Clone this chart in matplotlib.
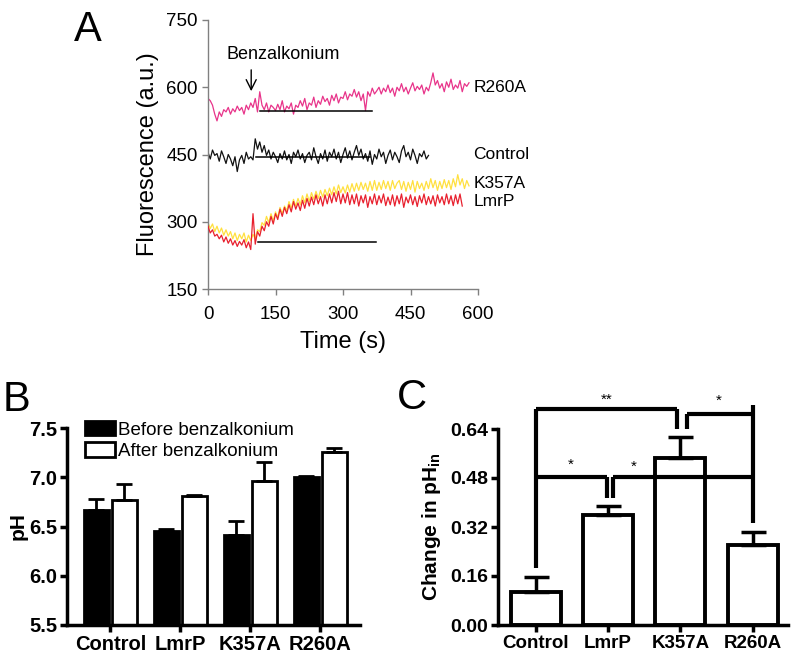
import numpy as np
import matplotlib
matplotlib.use("Agg")
import matplotlib.pyplot as plt
from matplotlib.patches import Patch

plt.rcParams['font.family'] = ['Liberation Sans', 'DejaVu Sans']
plt.rcParams['mathtext.fontset'] = 'custom'
plt.rcParams['mathtext.rm'] = 'Liberation Sans'
plt.rcParams['mathtext.bf'] = 'Liberation Sans:bold'

# ---------------- Panel A data (fluorescence traces, 5 s sampling) ----------------
step_s = 5
r260a_trace = [575, 570, 560, 540, 525, 545, 535, 550, 545, 555, 540, 552, 545, 558, 548,
               555, 540, 560, 550, 565, 555, 575, 545, 590, 560, 550, 565, 545, 560, 555,
               548, 562, 550, 570, 545, 558, 552, 565, 540, 560, 555, 570, 558, 575, 550,
               565, 560, 578, 555, 570, 562, 580, 568, 575, 560, 582, 570, 585, 565, 578,
               575, 590, 572, 585, 580, 595, 578, 590, 570, 585, 548, 590, 580, 598, 585,
               592, 600, 585, 598, 590, 605, 588, 598, 580, 600, 592, 608, 590, 600, 585,
               598, 610, 592, 602, 595, 605, 585, 600, 592, 610, 632, 605, 615, 598, 608,
               590, 612, 600, 618, 595, 605, 598, 615, 590, 608, 602, 610]
control_trace = [455, 440, 460, 448, 452, 435, 458, 445, 430, 450, 440, 425, 445, 412, 438,
                 448, 430, 455, 440, 445, 438, 485, 462, 478, 455, 470, 448, 460, 440, 455,
                 445, 432, 452, 440, 458, 438, 450, 430, 455, 445, 460, 440, 452, 432, 448,
                 455, 438, 465, 445, 430, 452, 440, 460, 435, 455, 445, 462, 440, 455, 432,
                 450, 465, 442, 458, 438, 455, 470, 448, 462, 440, 452, 435, 458, 428, 450,
                 440, 462, 445, 455, 430, 448, 460, 438, 455, 445, 432, 458, 470, 445, 455,
                 438, 462, 448, 430, 452, 445, 458, 440, 448]
k357a_trace = [298, 285, 295, 278, 290, 275, 286, 270, 282, 268, 278, 262, 275, 258, 272,
               262, 275, 255, 270, 258, 272, 262, 282, 278, 298, 292, 312, 298, 318, 302,
               322, 310, 332, 318, 335, 325, 345, 330, 350, 335, 352, 338, 358, 342, 362,
               345, 365, 350, 368, 352, 370, 355, 372, 358, 375, 360, 378, 362, 382, 365,
               378, 364, 382, 366, 385, 368, 386, 370, 388, 372, 386, 368, 390, 370, 392,
               370, 388, 372, 392, 374, 390, 370, 392, 374, 386, 392, 372, 390, 368, 388,
               372, 392, 366, 390, 374, 386, 370, 390, 374, 396, 376, 392, 370, 390, 374,
               394, 376, 392, 372, 396, 378, 405, 382, 396, 374, 392, 380]
lmrp_trace = [290, 275, 282, 268, 272, 262, 270, 255, 266, 252, 262, 248, 258, 245, 256,
              248, 260, 242, 255, 238, 318, 250, 278, 268, 290, 280, 300, 290, 312, 295,
              318, 305, 328, 312, 332, 318, 338, 322, 345, 328, 342, 325, 348, 330, 352,
              335, 355, 338, 360, 340, 356, 335, 360, 340, 362, 342, 365, 345, 368, 340,
              362, 342, 365, 338, 360, 340, 362, 335, 358, 342, 360, 332, 356, 340, 362,
              338, 358, 342, 362, 336, 355, 338, 360, 335, 358, 340, 362, 332, 355, 342,
              360, 338, 356, 334, 358, 342, 362, 338, 356, 340, 358, 335, 360, 342, 356,
              338, 362, 340, 358, 336, 360, 340, 362, 335]
trace_names = ['R260A', 'Control', 'K357A', 'LmrP']
trace_colors = ['#e8348a', '#111111', '#ffe040', '#e8202e']
label_pos = [(590, 600), (590, 451), (590, 386), (590, 345)]
# baseline reference lines: (level, start, end)
baselines = [(547, 115, 365), (445, 107, 359), (254, 111, 374)]
arrow_t = 96

# ---------------- Panel B data ----------------
cats = ['Control', 'LmrP', 'K357A', 'R260A']
ph_before = [6.67, 6.45, 6.41, 7.00]
ph_before_err = [0.11, 0.02, 0.15, 0.01]
ph_after = [6.77, 6.81, 6.96, 7.26]
ph_after_err = [0.16, 0.01, 0.19, 0.04]

# ---------------- Panel C data ----------------
dph = [0.107, 0.358, 0.545, 0.262]
dph_err = [0.051, 0.031, 0.069, 0.041]

fig = plt.figure(figsize=(7.97, 6.54), dpi=100)
W, H = 797, 654

def ax_px(l, t, r, b):
    return fig.add_axes([l / W, 1 - b / H, (r - l) / W, (b - t) / H])

# ================= Panel A =================
axA = ax_px(208, 20, 478, 289)
traces = [r260a_trace, control_trace, k357a_trace, lmrp_trace]
for i in range(4):
    y = np.array(traces[i])
    t = np.arange(len(y)) * step_s
    axA.plot(t, y, color=trace_colors[i], lw=0.9, zorder=2 + (1 if i == 3 else 0))
for lvl, s, e in baselines:
    axA.plot([s, e], [lvl, lvl], color='black', lw=1.1, zorder=5)
for name, (tx, ty) in zip(trace_names, label_pos):
    axA.text(tx, ty, name, fontsize=12.5, ha='left', va='center')
axA.annotate('', xy=(arrow_t, 585), xytext=(arrow_t, 645),
             arrowprops=dict(arrowstyle='->', color='black', lw=1.0, mutation_scale=18))
axA.text(166, 672, 'Benzalkonium', fontsize=13, ha='center', va='center')
axA.set_xlim(0, 600)
axA.set_ylim(150, 750)
axA.set_xticks([0, 150, 300, 450, 600])
axA.set_yticks([150, 300, 450, 600, 750])
for s in ['top', 'right']:
    axA.spines[s].set_visible(False)
for s in ['left', 'bottom']:
    axA.spines[s].set_color('#808080')
    axA.spines[s].set_linewidth(1.0)
axA.tick_params(axis='both', colors='#808080', labelcolor='black', labelsize=13.5,
                length=4, width=1.0, direction='out')
axA.tick_params(axis='x', pad=8)
axA.set_xlabel('Time (s)', fontsize=17, labelpad=6)
axA.set_ylabel('Fluorescence (a.u.)', fontsize=17, labelpad=5)
fig.text(88 / W, 1 - 30 / H, 'A', fontsize=30, ha='center', va='center')

# ================= Panel B =================
axB = ax_px(67, 428, 360, 625)
x = np.arange(len(cats))
bw = 0.36
off = 0.2
axB.bar(x - off, ph_before, width=bw, color='black', edgecolor='black', lw=2, zorder=2)
axB.bar(x + off, ph_after, width=bw, color='white', edgecolor='black', lw=2, zorder=2)
axB.errorbar(x - off, ph_before, yerr=[np.zeros(4), ph_before_err], fmt='none',
             ecolor='black', elinewidth=2, capsize=6, capthick=2, zorder=3)
axB.errorbar(x + off, ph_after, yerr=[np.zeros(4), ph_after_err], fmt='none',
             ecolor='black', elinewidth=2, capsize=6, capthick=2, zorder=3)
axB.set_xlim(-0.62, 3.57)
axB.set_ylim(5.5, 7.5)
axB.set_yticks([5.5, 6.0, 6.5, 7.0, 7.5])
axB.set_yticklabels(['5.5', '6.0', '6.5', '7.0', '7.5'])
axB.set_xticks(x)
axB.set_xticklabels(cats)
for s in ['top', 'right']:
    axB.spines[s].set_visible(False)
for s in ['left', 'bottom']:
    axB.spines[s].set_linewidth(2.5)
axB.tick_params(axis='both', length=5, width=2.5, labelsize=14.5, pad=2)
for lab in axB.get_xticklabels() + axB.get_yticklabels():
    lab.set_fontweight('bold')
axB.set_ylabel('pH', fontsize=15, fontweight='bold', labelpad=1)
handles = [Patch(facecolor='black', edgecolor='black', lw=2),
           Patch(facecolor='white', edgecolor='black', lw=2)]
fig.legend(handles, ['Before benzalkonium', 'After benzalkonium'], loc='upper left',
           bbox_to_anchor=(85 / W, 1 - 421 / H), frameon=False, fontsize=13.5,
           handlelength=1.6, handleheight=0.8, handletextpad=0.15, labelspacing=0.2,
           borderpad=0, borderaxespad=0)
fig.text(17 / W, 1 - 400 / H, 'B', fontsize=30, ha='center', va='center')

# ================= Panel C =================
axC = ax_px(498, 429, 788, 625)
xc = np.arange(len(cats))
axC.bar(xc, dph, width=0.69, color='white', edgecolor='black', lw=2.8, zorder=2)
axC.errorbar(xc, dph, yerr=[np.zeros(4), dph_err], fmt='none', ecolor='black',
             elinewidth=2.5, capsize=9, capthick=2.5, zorder=3)
axC.set_xlim(-0.525, 3.49)
axC.set_ylim(0, 0.64)
axC.set_yticks([0, 0.16, 0.32, 0.48, 0.64])
axC.set_yticklabels(['0.00', '0.16', '0.32', '0.48', '0.64'])
axC.set_xticks(xc)
axC.set_xticklabels(cats)
for s in ['top', 'right']:
    axC.spines[s].set_visible(False)
for s in ['left', 'bottom']:
    axC.spines[s].set_linewidth(2.5)
axC.tick_params(axis='both', length=5, width=2.5, labelsize=14, pad=2)
axC.tick_params(axis='x', labelsize=13.5)
for lab in axC.get_xticklabels() + axC.get_yticklabels():
    lab.set_fontweight('bold')
axC.set_ylabel(r'Change in pH$_\mathbf{in}$', fontsize=15, fontweight='bold', labelpad=5)

def seg(xs, ys):
    axC.plot(xs, ys, color='black', lw=3, clip_on=False, solid_capstyle='butt', zorder=4)

# significance brackets
seg([0, 0], [0.186, 0.705]); seg([0, 1.95], [0.705, 0.705]); seg([1.95, 1.95], [0.64, 0.705])
seg([2.09, 2.09], [0.64, 0.689]); seg([2.09, 3.0], [0.689, 0.689]); seg([3.0, 3.0], [0.333, 0.72])
seg([0, 0.98], [0.483, 0.483]); seg([0.98, 0.98], [0.415, 0.483])
seg([1.065, 1.065], [0.415, 0.483]); seg([1.065, 3.0], [0.483, 0.483])
for sx, sy, st in [(0.98, 0.735, '**'), (2.53, 0.733, '*'), (0.48, 0.523, '*'), (1.36, 0.518, '*')]:
    axC.text(sx, sy, st, fontsize=11, ha='center', va='center', clip_on=False)
fig.text(412 / W, 1 - 398 / H, 'C', fontsize=30, ha='center', va='center')

fig.savefig('out.png', dpi=100)
